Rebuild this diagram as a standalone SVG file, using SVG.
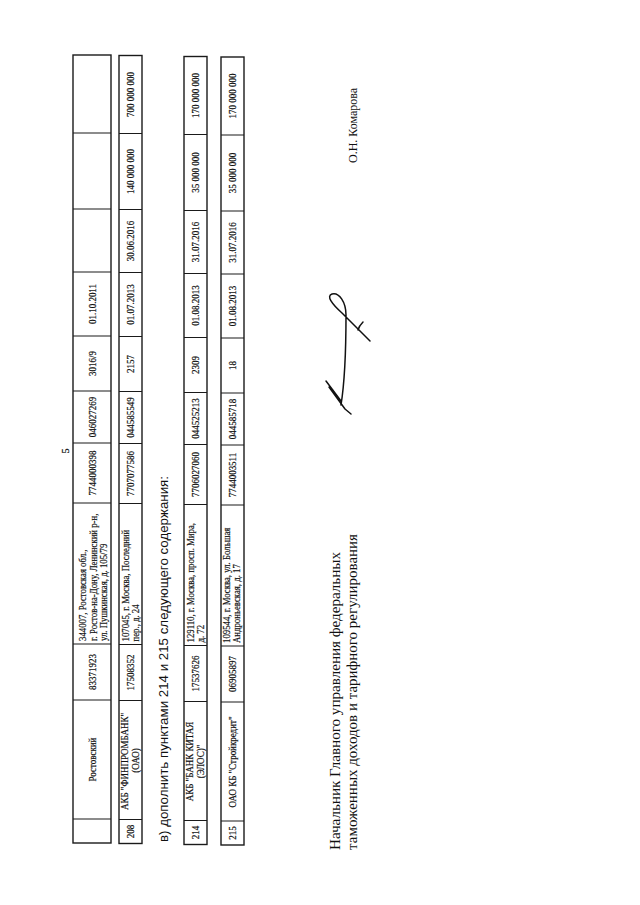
<svg xmlns="http://www.w3.org/2000/svg" width="640" height="905" viewBox="0 0 640 905">
<style>
.bg{fill:#ffffff}
.box{fill:none;stroke:#1a1a1a;stroke-width:1.4}
.div{stroke:#1a1a1a;stroke-width:1.1}
.t{font-family:"Liberation Serif","Times New Roman",serif;font-size:10.2px;fill:#111;stroke:#111;stroke-width:0.2;text-anchor:middle}
.ta{font-family:"Liberation Serif","Times New Roman",serif;font-size:10.2px;fill:#111;stroke:#111;stroke-width:0.2;text-anchor:start}
.big{font-family:"Liberation Sans",Arial,sans-serif;font-size:13.5px;fill:#111}
.sig{font-family:"Liberation Serif","Times New Roman",serif;font-size:15px;fill:#111}
.name{font-family:"Liberation Serif","Times New Roman",serif;font-size:13px;fill:#111}
.pen{fill:none;stroke:#111;stroke-width:1.5;stroke-linecap:round;stroke-linejoin:round}
</style>
<rect class="bg" x="0" y="0" width="640" height="905"/>

<g id="page-number">
<text class="t" transform="translate(69,451) rotate(-90)">5</text>
</g>

<g id="row-prev">
<rect class="box" x="73" y="55" width="38" height="788"/>
<path class="div" d="M73,133H111M73,209H111M73,272H111M73,336H111M73,391H111M73,443H111M73,503H111M73,644H111M73,700H111M73,819H111"/>
<text class="t" transform="translate(95.5,304) rotate(-90) scale(0.88,1)">01.10.2011</text>
<text class="t" transform="translate(95.5,363.5) rotate(-90) scale(0.88,1)">3016/9</text>
<text class="t" transform="translate(95.5,417) rotate(-90) scale(0.88,1)">046027269</text>
<text class="t" transform="translate(95.5,473) rotate(-90) scale(0.88,1)">7744000398</text>
<text class="ta" transform="translate(86,641) rotate(-90) scale(0.86,1)">344007,  Ростовская обл.,</text>
<text class="ta" transform="translate(96.5,641) rotate(-90) scale(0.86,1)">г. Ростов-на-Дону, Ленинский р-н,</text>
<text class="ta" transform="translate(107,641) rotate(-90) scale(0.86,1)">ул. Пушкинская, д. 105/79</text>
<text class="t" transform="translate(95.5,672) rotate(-90) scale(0.88,1)">83371923</text>
<text class="t" transform="translate(95.5,759.5) rotate(-90) scale(0.88,1)">Ростовский</text>
</g>

<g id="row-208" transform="translate(0,0.5)">
<rect class="box" x="119" y="55" width="23" height="788"/>
<path class="div" d="M119,133H142M119,209H142M119,272H142M119,336H142M119,391H142M119,443H142M119,503H142M119,644H142M119,700H142M119,819H142"/>
<text class="t" transform="translate(134,94) rotate(-90) scale(0.88,1)">700 000 000</text>
<text class="t" transform="translate(134,171) rotate(-90) scale(0.88,1)">140 000 000</text>
<text class="t" transform="translate(134,240.5) rotate(-90) scale(0.88,1)">30.06.2016</text>
<text class="t" transform="translate(134,304) rotate(-90) scale(0.88,1)">01.07.2013</text>
<text class="t" transform="translate(134,363.5) rotate(-90) scale(0.88,1)">2157</text>
<text class="t" transform="translate(134,417) rotate(-90) scale(0.88,1)">044585549</text>
<text class="t" transform="translate(134,473) rotate(-90) scale(0.88,1)">7707077586</text>
<text class="ta" transform="translate(128.5,641) rotate(-90) scale(0.86,1)">107045, г. Москва, Последний</text>
<text class="ta" transform="translate(139,641) rotate(-90) scale(0.86,1)">пер., д. 24</text>
<text class="t" transform="translate(134,672) rotate(-90) scale(0.88,1)">17508352</text>
<text class="t" transform="translate(128,761) rotate(-90) scale(0.88,1)">АКБ "ФИНПРОМБАНК"</text>
<text class="t" transform="translate(139,760) rotate(-90) scale(0.88,1)">(ОАО)</text>
<text class="t" transform="translate(134,831) rotate(-90) scale(0.88,1)">208</text>
</g>

<g id="clause-text">
<text class="big" transform="translate(168,842) rotate(-90)" textLength="366" lengthAdjust="spacingAndGlyphs">в) дополнить пунктами 214 и 215 следующего содержания:</text>
</g>

<g id="row-214" transform="translate(0,1.5)">
<rect class="box" x="184" y="55" width="23" height="788"/>
<path class="div" d="M184,133H207M184,209H207M184,272H207M184,336H207M184,391H207M184,443H207M184,503H207M184,644H207M184,700H207M184,819H207"/>
<text class="t" transform="translate(199,94) rotate(-90) scale(0.88,1)">170 000 000</text>
<text class="t" transform="translate(199,171) rotate(-90) scale(0.88,1)">35 000 000</text>
<text class="t" transform="translate(199,240.5) rotate(-90) scale(0.88,1)">31.07.2016</text>
<text class="t" transform="translate(199,304) rotate(-90) scale(0.88,1)">01.08.2013</text>
<text class="t" transform="translate(199,363.5) rotate(-90) scale(0.88,1)">2309</text>
<text class="t" transform="translate(199,417) rotate(-90) scale(0.88,1)">044525213</text>
<text class="t" transform="translate(199,473) rotate(-90) scale(0.88,1)">7706027060</text>
<text class="ta" transform="translate(193.5,641) rotate(-90) scale(0.86,1)">129110, г. Москва, просп. Мира,</text>
<text class="ta" transform="translate(204,641) rotate(-90) scale(0.86,1)">д. 72</text>
<text class="t" transform="translate(199,672) rotate(-90) scale(0.88,1)">17537626</text>
<text class="t" transform="translate(193,760) rotate(-90) scale(0.88,1)">АКБ "БАНК КИТАЯ</text>
<text class="t" transform="translate(204,760) rotate(-90) scale(0.88,1)">(ЭЛОС)"</text>
<text class="t" transform="translate(199,831) rotate(-90) scale(0.88,1)">214</text>
</g>

<g id="row-215" transform="translate(0,2)">
<rect class="box" x="221" y="55" width="23" height="788"/>
<path class="div" d="M221,133H244M221,209H244M221,272H244M221,336H244M221,391H244M221,443H244M221,503H244M221,644H244M221,700H244M221,819H244"/>
<text class="t" transform="translate(236,94) rotate(-90) scale(0.88,1)">170 000 000</text>
<text class="t" transform="translate(236,171) rotate(-90) scale(0.88,1)">35 000 000</text>
<text class="t" transform="translate(236,240.5) rotate(-90) scale(0.88,1)">31.07.2016</text>
<text class="t" transform="translate(236,304) rotate(-90) scale(0.88,1)">01.08.2013</text>
<text class="t" transform="translate(236,363.5) rotate(-90) scale(0.88,1)">18</text>
<text class="t" transform="translate(236,417) rotate(-90) scale(0.88,1)">044585718</text>
<text class="t" transform="translate(236,473) rotate(-90) scale(0.88,1)">7744003511</text>
<text class="ta" transform="translate(229.5,641) rotate(-90) scale(0.86,1)">109544, г. Москва, ул. Большая</text>
<text class="ta" transform="translate(240,641) rotate(-90) scale(0.86,1)">Андроньевская, д. 17</text>
<text class="t" transform="translate(236,672) rotate(-90) scale(0.88,1)">06905897</text>
<text class="t" transform="translate(236,760) rotate(-90) scale(0.88,1)">ОАО КБ "Стройкредит"</text>
<text class="t" transform="translate(236,831) rotate(-90) scale(0.88,1)">215</text>
</g>

<g id="signatory">
<text class="sig" transform="translate(340,850) rotate(-90)" textLength="298" lengthAdjust="spacingAndGlyphs">Начальник Главного управления федеральных</text>
<text class="sig" transform="translate(357,850) rotate(-90)" textLength="316" lengthAdjust="spacingAndGlyphs">таможенных доходов и тарифного регулирования</text>
</g>

<g id="signature">
<path class="pen" d="M341,405 C345,380 346,345 346,315 C346,302 339,292 332,294 C326,296 332,304 342,313 L370,341"/>
<path class="pen" d="M358,330 C359,326 361,324 363,322"/>
<path class="pen" d="M326,381 L341,401 M329,387 L345,409 L351,414 M333,390 L338,399"/>
</g>

<g id="name">
<text class="name" transform="translate(357,163) rotate(-90)" textLength="75" lengthAdjust="spacingAndGlyphs">О.Н. Комарова</text>
</g>

<g id="connectors"/>
</svg>
